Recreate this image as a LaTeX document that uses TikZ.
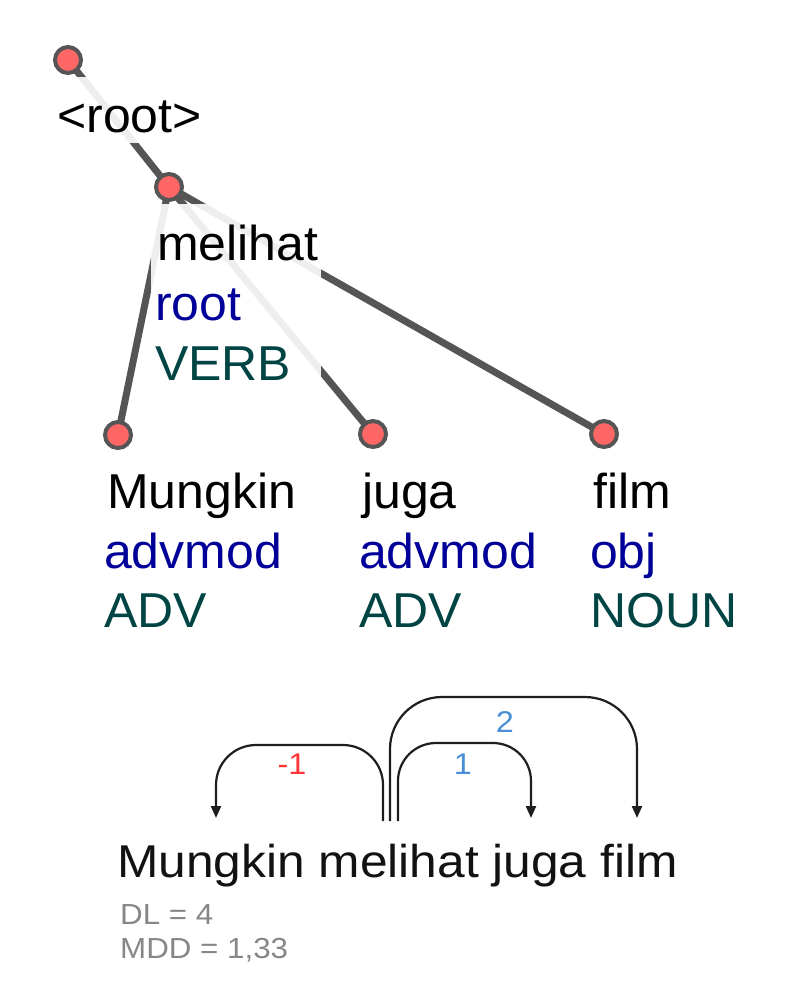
\documentclass[tikz,border=0pt]{standalone}
\usepackage{fontspec}
\setmainfont{Liberation Sans}
\newfontfamily\wide[FakeStretch=1.08]{Liberation Sans}
\newfontfamily\labfont[FakeStretch=1.02]{Liberation Sans}
\usetikzlibrary{arrows.meta}
\definecolor{edgegrey}{HTML}{555555}
\definecolor{dotred}{HTML}{FF6666}
\definecolor{relblue}{HTML}{000099}
\definecolor{posteal}{HTML}{004444}
\definecolor{arcred}{HTML}{FF3535}
\definecolor{arcblue}{HTML}{4A8FD6}
\definecolor{metagrey}{HTML}{878787}
\definecolor{arcink}{HTML}{1E1E1E}
\begin{document}
\begin{tikzpicture}[x=1pt,y=-1pt,
  tok/.style={circle, draw=edgegrey, fill=dotred, line width=4pt, minimum size=26pt, inner sep=0pt},
  dep/.style={draw=edgegrey, line width=7pt},
  labelbg/.style={fill=white, fill opacity=0.9},
  lab/.style={anchor=base west, inner sep=0pt, font=\labfont\fontsize{49}{58}\selectfont},
  wordtxt/.style={lab, text=black},
  reltxt/.style={lab, text=relblue},
  postxt/.style={lab, text=posteal},
  arc/.style={draw=arcink, line width=2.2pt, -{Triangle[width=10pt,length=12pt]}},
  arclab/.style={inner sep=0pt, font=\wide\fontsize{30}{32}\selectfont}
]
\useasboundingbox (0,0) rectangle (797,989);

% token positions
\coordinate (pr) at (68,60);
\coordinate (pm) at (169,187);
\coordinate (pa) at (118,435);
\coordinate (pj) at (373,434);
\coordinate (pf) at (604,434);

% dependency edges
\draw[dep] (pr) -- (pm);
\draw[dep] (pm) -- (pa);
\draw[dep] (pm) -- (pj);
\draw[dep] (pm) -- (pf);

% label backgrounds
\fill[labelbg] (55,77) rectangle (202,143);
\fill[labelbg] (151,204) rectangle (321,391);
\fill[labelbg] (101,452) rectangle (302,638);
\fill[labelbg] (356,451) rectangle (541,638);
\fill[labelbg] (587,451) rectangle (741,638);

% labels
\node[wordtxt] (lr) at (57,132) {<root>};

\node[wordtxt] (lm1) at (157,260) {melihat};
\node[reltxt]  (lm2) at (155,320) {root};
\node[postxt]  (lm3) at (155,380) {VERB};

\node[wordtxt] (la1) at (107,508) {Mungkin};
\node[reltxt]  (la2) at (104,568) {advmod};
\node[postxt]  (la3) at (104,627) {ADV};

\node[wordtxt] (lj1) at (362,508) {juga};
\node[reltxt]  (lj2) at (359,568) {advmod};
\node[postxt]  (lj3) at (359,627) {ADV};

\node[wordtxt] (lf1) at (593,508) {film};
\node[reltxt]  (lf2) at (590,568) {obj};
\node[postxt]  (lf3) at (590,627) {NOUN};

% token dots
\node[tok] (tr) at (pr) {};
\node[tok] (tm) at (pm) {};
\node[tok] (ta) at (pa) {};
\node[tok] (tj) at (pj) {};
\node[tok] (tf) at (pf) {};

% linear sentence
\node[anchor=base west, inner sep=0pt, text=black!93,
      font=\wide\fontsize{46}{50}\selectfont] (sent) at (117,877) {Mungkin melihat juga film};
\node[anchor=base west, inner sep=0pt, text=metagrey,
      font=\wide\fontsize{29}{32}\selectfont] (dl) at (120,924) {DL = 4};
\node[anchor=base west, inner sep=0pt, text=metagrey,
      font=\wide\fontsize{29}{32}\selectfont] (mdd) at (120,958) {MDD = 1,33};

% arc end points
\coordinate (sA) at (383,821);
\coordinate (sB) at (390,821);
\coordinate (sC) at (398,821);
\coordinate (eA) at (216,818);
\coordinate (eB) at (637,818);
\coordinate (eC) at (531,818);

\draw[arc, rounded corners=40pt] (sA) -- (sA |- 0,745) -- (eA |- 0,745) -- (eA);
\draw[arc, rounded corners=52pt] (sB) -- (sB |- 0,697) -- (eB |- 0,697) -- (eB);
\draw[arc, rounded corners=38pt] (sC) -- (sC |- 0,743) -- (eC |- 0,743) -- (eC);

\node[arclab, text=arcred] (nA) at (292,764) {-1};
\node[arclab, text=arcblue] (nB) at (505,722) {2};
\node[arclab, text=arcblue] (nC) at (463,764) {1};
\end{tikzpicture}
\end{document}
